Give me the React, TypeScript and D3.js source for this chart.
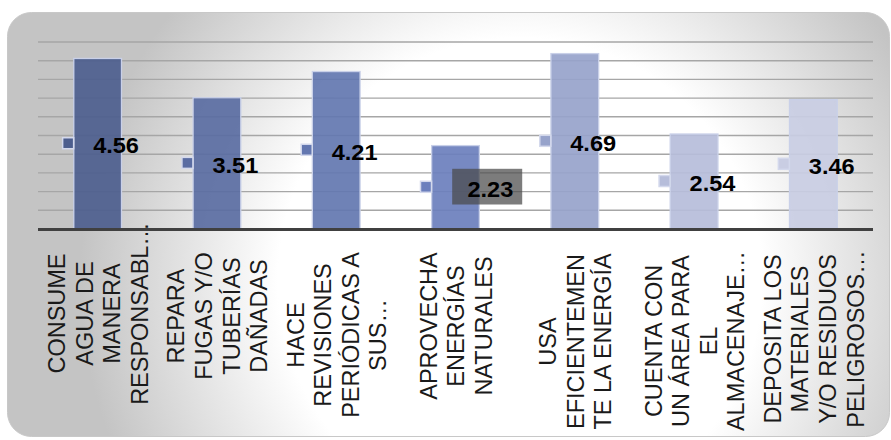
import React from "react";
import * as d3 from "d3";

// Category labels, already wrapped into lines as they are printed under the axis
const categoryLines: string[][] = [
  ["CONSUME", "AGUA DE", "MANERA", "RESPONSABL…"],
  ["REPARA", "FUGAS Y/O", "TUBERÍAS", "DAÑADAS"],
  ["HACE", "REVISIONES", "PERIÓDICAS A", "SUS…"],
  ["APROVECHA", "ENERGÍAS", "NATURALES"],
  ["USA", "EFICIENTEMEN", "TE LA ENERGÍA"],
  ["CUENTA CON", "UN ÁREA PARA", "EL", "ALMACENAJE…"],
  ["DEPOSITA LOS", "MATERIALES", "Y/O RESIDUOS", "PELIGROSOS…"],
];

// Average score per practice
const values: number[] = [4.56, 3.51, 4.21, 2.23, 4.69, 2.54, 3.46];

// Value axis
const yDomain: [number, number] = [0, 5];
const gridStep = 0.5;

// Bar colours, dark to light
const barColors = ["#4d5e8e", "#5a6ca2", "#6377b0", "#6b7fbd", "#97a3cb", "#b6bdda", "#c9cde3"];

// Layout
const W = 891;
const H = 440;
const plot = { left: 38, right: 873, top: 42, bottom: 229 };
const labelMidY = [313.5, 316, 335, 326, 341.5, 341, 339];
const lineGap = 27.6;
const boxedLabel = 3;

const FONT = "'Liberation Sans', Arial, Helvetica, sans-serif";

export default function App() {
  const keys = categoryLines.map((_, i) => String(i));
  const x = d3
    .scaleBand<string>()
    .domain(keys)
    .range([plot.left, plot.right])
    .paddingInner(0.6)
    .paddingOuter(0.3);
  const y = d3.scaleLinear().domain(yDomain).range([plot.bottom, plot.top]);
  const gridValues = d3.range(yDomain[0] + gridStep, yDomain[1] + gridStep / 2, gridStep);
  const bw = x.bandwidth();

  return (
    <svg
      width={W}
      height={H}
      style={{ position: "absolute", left: 0, top: 0, background: "#fff" }}
    >
      <defs>
        <radialGradient id="bgGrad" gradientUnits="userSpaceOnUse" cx={520} cy={280} r={440}>
          <stop offset="0" stopColor="#ffffff" />
          <stop offset="0.55" stopColor="#ffffff" />
          <stop offset="1" stopColor="#c4c4c4" />
        </radialGradient>
      </defs>

      {/* chart area */}
      <rect x={7.5} y={12.5} width={882} height={424} rx={24} ry={24} fill="url(#bgGrad)" stroke="#c8c8c8" strokeWidth={1} />

      {/* gridlines */}
      <g>
        {gridValues.map((v) => (
          <line key={v} x1={plot.left} x2={plot.right} y1={y(v)} y2={y(v)} stroke="#a6a6a6" strokeWidth={1.4} />
        ))}
      </g>

      {/* bars */}
      <g>
        {values.map((v, i) => (
          <rect
            key={i}
            x={x(keys[i])!}
            y={y(v)}
            width={bw}
            height={y(0) - y(v)}
            fill={barColors[i]}
            fillOpacity={0.92}
            stroke="#c9d0e8"
            strokeWidth={1.3}
          />
        ))}
      </g>

      {/* category axis */}
      <line x1={plot.left} x2={plot.right} y1={y(0) + 0.5} y2={y(0) + 0.5} stroke="#404040" strokeWidth={3} />

      {/* category labels */}
      <g fontFamily={FONT} fontSize={23.5} fill="#1a1a1a">
        {categoryLines.map((lines, i) => {
          const cx = x(keys[i])! + bw / 2;
          return lines.map((ln, j) => {
            const lx = cx + (j - (lines.length - 1) / 2) * lineGap;
            return (
              <text
                key={`${i}-${j}`}
                transform={`translate(${lx},${labelMidY[i]}) scale(1.05,1) rotate(-90)`}
                textAnchor="middle"
                y={8.4}
              >
                {ln}
              </text>
            );
          });
        })}
      </g>

      {/* data labels with legend keys */}
      <g fontFamily={FONT} fontSize={22} fontWeight="bold" fill="#000">
        {values.map((v, i) => {
          const cx = x(keys[i])! + bw / 2;
          const mid = (y(v) + y(0)) / 2;
          const tx = i === boxedLabel ? cx + 12 : cx - 4.5;
          return (
            <g key={i}>
              <rect
                x={cx - 29.5 - 5.5}
                y={mid - 0.5 - 5.5}
                width={11}
                height={11}
                fill={barColors[i]}
                stroke="#d3d8ec"
                strokeWidth={1.5}
              />
              {i === boxedLabel && (
                <rect x={cx - 3.3} y={mid - 18.5} width={70} height={35.7} fill="#4a4a4a" fillOpacity={0.72} />
              )}
              <text transform={`translate(${tx},${mid + 9.4}) scale(1.07,1)`}>{v.toFixed(2)}</text>
            </g>
          );
        })}
      </g>
    </svg>
  );
}
